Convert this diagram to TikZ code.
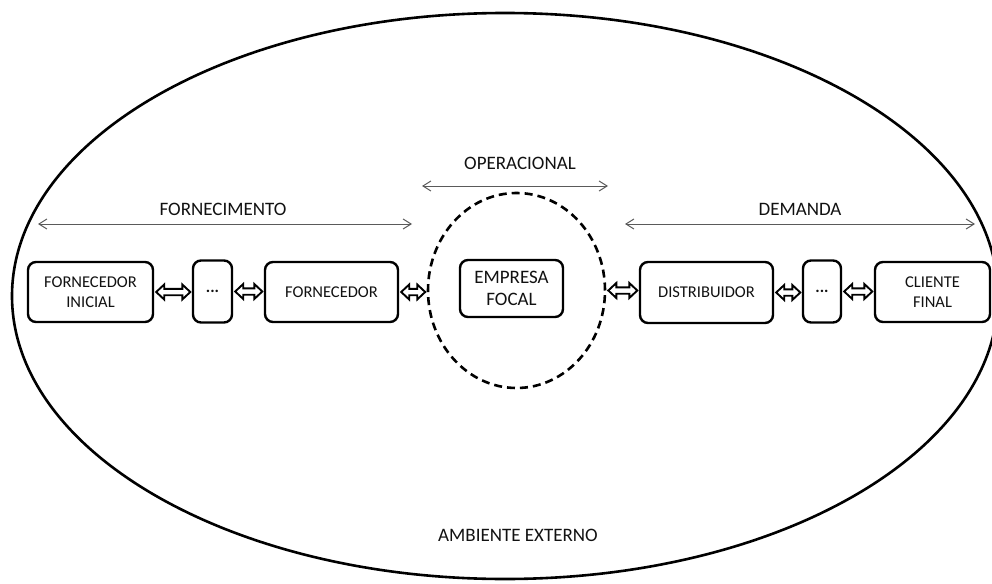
\documentclass[tikz,border=0pt]{standalone}
\usepackage{fontspec}
\setmainfont{Carlito}
\usetikzlibrary{arrows.meta,shapes.geometric,calc}

\definecolor{ink}{HTML}{111111}
\definecolor{spangray}{HTML}{5A5A5A}

\tikzset{
  chainbox/.style={draw=black, line width=2.4pt, rounded corners=8pt,
    inner sep=0pt, align=center, text=ink, font=\fontsize{16.5}{20}\selectfont},
  focalbox/.style={chainbox, font=\fontsize{19}{22}\selectfont},
  zone/.style={draw=black, line width=2.6pt, dash pattern=on 8pt off 5pt,
    ellipse, inner sep=0pt},
  label/.style={text=ink, font=\fontsize{19}{22}\selectfont, inner sep=0pt},
  span/.style={draw=spangray, line width=1pt,
    {Straight Barb[length=8pt,width=10pt]}-{Straight Barb[length=8pt,width=10pt]}},
  % hollow double-headed link between two horizontally aligned nodes
  link/.style={draw=black, line width=1.9pt, line join=miter,
    to path={let \p1=(\tikztostart), \p2=(\tikztotarget),
      \n1={\x1+2pt}, \n2={\x2-1.5pt} in
      (\n1,\y1) -- (\n1+8pt,\y1+7.5pt) -- (\n1+8pt,\y1+3.2pt)
      -- (\n2-8pt,\y1+3.2pt) -- (\n2-8pt,\y1+7.5pt) -- (\n2,\y1)
      -- (\n2-8pt,\y1-7.5pt) -- (\n2-8pt,\y1-3.2pt) -- (\n1+8pt,\y1-3.2pt)
      -- (\n1+8pt,\y1-7.5pt) -- cycle}},
}

\begin{document}
\begin{tikzpicture}[x=1pt, y=-1pt]
  \useasboundingbox (0,0) rectangle (992,583);
  \clip (0,0) rectangle (992,583);

  % external environment
  \draw[line width=2.6pt] (505,296) ellipse [x radius=493, y radius=283];
  \node[label] (amb) at (518,535) {AMBIENTE EXTERNO};

  % operational zone around the focal company
  \node[zone, minimum width=177pt, minimum height=195pt] (zona) at (516.5,290.5) {};
  \node[focalbox, minimum width=103pt, minimum height=57pt] (focal) at (511.5,288.5) {EMPRESA\\FOCAL};

  % supply side
  \node[chainbox, minimum width=125pt, minimum height=60pt] (ini) at (90.5,292) {FORNECEDOR\\INICIAL};
  \node[chainbox, minimum width=39pt, minimum height=62pt] (dotsA) at (212.5,291.5) {\textbf{...}};
  \node[chainbox, minimum width=133pt, minimum height=60pt] (forn) at (331.5,292) {FORNECEDOR};

  % demand side
  \node[chainbox, minimum width=133pt, minimum height=61pt] (dist) at (706.5,292.5) {DISTRIBUIDOR};
  \node[chainbox, minimum width=38pt, minimum height=62pt] (dotsB) at (822,291.5) {\textbf{...}};
  \node[chainbox, minimum width=115pt, minimum height=60pt] (cli) at (932.5,292) {CLIENTE\\FINAL};

  % links along the chain
  \draw[link] (ini.east) to (dotsA.west);
  \draw[link] (dotsA.east) to (forn.west);
  \draw[link] (forn.east) to (zona.west);
  \draw[link] (zona.east) to (dist.west);
  \draw[link] (dist.east) to (dotsB.west);
  \draw[link] (dotsB.east) to (cli.west);

  % scope labels
  \node[label] (lforn) at (223,209) {FORNECIMENTO};
  \coordinate (fornA) at (38,224);
  \coordinate (fornB) at (412,224);
  \draw[span] (fornA) -- (fornB);

  \node[label] (lop) at (520,163) {OPERACIONAL};
  \coordinate (opA) at (422,186);
  \coordinate (opB) at (608,186);
  \draw[span] (opA) -- (opB);

  \node[label] (ldem) at (800,209) {DEMANDA};
  \coordinate (demA) at (625,224);
  \coordinate (demB) at (975,224);
  \draw[span] (demA) -- (demB);
\end{tikzpicture}
\end{document}
